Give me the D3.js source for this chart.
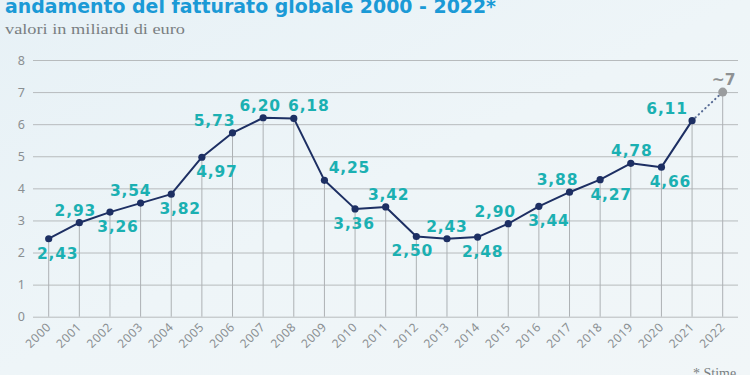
<!DOCTYPE html>
<html>
<head>
<meta charset="utf-8">
<script src="https://cdn.jsdelivr.net/npm/d3@7"></script>
<style>
  body { margin: 0; padding: 0; }
  svg { display: block; }
</style>
</head>
<body>
<svg id="chart" width="750" height="375"></svg>
<script>
// dati (miliardi di euro)
var years = [2000, 2001, 2002, 2003, 2004, 2005, 2006, 2007, 2008, 2009, 2010,
             2011, 2012, 2013, 2014, 2015, 2016, 2017, 2018, 2019, 2020, 2021];
var values = [2.43, 2.93, 3.26, 3.54, 3.82, 4.97, 5.73, 6.20, 6.18, 4.25, 3.36,
              3.42, 2.50, 2.43, 2.48, 2.90, 3.44, 3.88, 4.27, 4.78, 4.66, 6.11];
var estimateYear = 2022;
var estimateValue = 7;
var estimateLabel = "~7";
var yTicks = [0, 1, 2, 3, 4, 5, 6, 7, 8];
var xTickLabels = ["2000", "2001", "2002", "2003", "2004", "2005", "2006", "2007",
                   "2008", "2009", "2010", "2011", "2012", "2013", "2014", "2015",
                   "2016", "2017", "2018", "2019", "2020", "2021", "2022"];
// sopra (a) / sotto (b) il punto
var labelSide = ["b","a","b","a","b","b","a","a","a","a","b",
                 "a","b","a","b","a","b","a","b","a","b","a"];
var labelNudge = [9, -4, 8, -10, 9, 15, -18, -3, 15, 25, -1,
                  3, -4, 0, 5, -13, 10, -12, 11, 1, 9, -25];

var svg = d3.select("#chart");

// sfondo
var defs = svg.append("defs");
var grad = defs.append("linearGradient").attr("id", "bg")
	.attr("x1", "0").attr("y1", "0").attr("x2", "1").attr("y2", "1");
grad.append("stop").attr("offset", "0").attr("stop-color", "#e7f1f6");
grad.append("stop").attr("offset", "0.5").attr("stop-color", "#eef5f8");
grad.append("stop").attr("offset", "1").attr("stop-color", "#f1f6f8");
svg.append("rect").attr("width", 750).attr("height", 375).attr("fill", "url(#bg)");

var x = d3.scaleLinear().domain([2000, 2022]).range([48.7, 722.7]);
var y = d3.scaleLinear().domain([0, 8]).range([316.7, 60]);

// titoli
svg.append("text")
	.attr("x", 5).attr("y", 13)
	.attr("textLength", 491).attr("lengthAdjust", "spacingAndGlyphs")
	.style("font-family", "'DejaVu Sans', sans-serif")
	.style("font-weight", "bold")
	.style("font-size", "19px")
	.attr("fill", "#1b9ad6")
	.text("andamento del fatturato globale 2000 - 2022*");

svg.append("text")
	.attr("x", 5).attr("y", 34)
	.attr("textLength", 180).attr("lengthAdjust", "spacingAndGlyphs")
	.style("font-family", "'Liberation Serif', serif")
	.style("font-size", "15px")
	.attr("fill", "#7a7f82")
	.text("valori in miliardi di euro");

// griglia orizzontale + etichette asse y
var yAxis = svg.append("g")
	.attr("transform", "translate(33,0)")
	.call(d3.axisLeft(y).tickValues(yTicks).tickSize(-705).tickPadding(8).tickFormat(d3.format("d")));
yAxis.select(".domain").remove();
yAxis.selectAll(".tick line").attr("stroke", "#b7bbbd").attr("stroke-width", 1);
yAxis.selectAll(".tick text")
	.attr("fill", "#8a8f92")
	.style("font-family", "'Noto Sans', sans-serif")
	.style("font-size", "12.5px");

// linee verticali dai punti
var allYears = years.concat([estimateYear]);
var allValues = values.concat([estimateValue]);
svg.append("g").selectAll("line")
	.data(allYears)
	.join("line")
	.attr("x1", function(d) { return x(d); })
	.attr("x2", function(d) { return x(d); })
	.attr("y1", function(d, i) { return y(allValues[i]); })
	.attr("y2", y(0))
	.attr("stroke", "#adb1b4")
	.attr("stroke-width", 1);

// etichette asse x
svg.append("g").selectAll("text")
	.data(xTickLabels)
	.join("text")
	.attr("transform", function(d) { return "translate(" + (x(+d) + 3) + "," + (y(0) + 11) + ") rotate(-45)"; })
	.attr("text-anchor", "end")
	.attr("fill", "#8a8f92")
	.style("font-family", "'Noto Sans', sans-serif")
	.style("font-size", "12px")
	.style("letter-spacing", "0.6px")
	.text(function(d) { return d; });

// linea stimata
svg.append("line")
	.attr("x1", x(years[years.length - 1]))
	.attr("y1", y(values[values.length - 1]))
	.attr("x2", x(estimateYear))
	.attr("y2", y(estimateValue))
	.attr("stroke", "#5a6d96")
	.attr("stroke-width", 2)
	.attr("stroke-linecap", "round")
	.attr("stroke-dasharray", "0.5,4");

// linea
var line = d3.line()
	.x(function(d, i) { return x(years[i]); })
	.y(function(d) { return y(d); });

svg.append("path")
	.datum(values)
	.attr("fill", "none")
	.attr("stroke", "#1d2f63")
	.attr("stroke-width", 2)
	.attr("stroke-linejoin", "round")
	.attr("d", line);

svg.append("g").selectAll("circle")
	.data(values)
	.join("circle")
	.attr("cx", function(d, i) { return x(years[i]); })
	.attr("cy", function(d) { return y(d); })
	.attr("r", 3.6)
	.attr("fill", "#1d2f63");

svg.append("circle")
	.attr("cx", x(estimateYear))
	.attr("cy", y(estimateValue))
	.attr("r", 4.5)
	.attr("fill", "#9a9c9e");

// etichette valori
var fmt = function(v) { return v.toFixed(2).replace(".", ","); };
svg.append("g").selectAll("text")
	.data(values)
	.join("text")
	.attr("x", function(d, i) { return x(years[i]) + labelNudge[i]; })
	.attr("y", function(d, i) { return y(d) + (labelSide[i] == "a" ? -7 : 20); })
	.attr("text-anchor", "middle")
	.attr("fill", "#1bb0b2")
	.style("font-family", "'DejaVu Sans', sans-serif")
	.style("font-weight", "bold")
	.style("font-size", "15.5px")
	.style("letter-spacing", "0.8px")
	.text(fmt);

svg.append("text")
	.attr("x", x(estimateYear) + 1)
	.attr("y", y(estimateValue) - 7)
	.attr("text-anchor", "middle")
	.attr("fill", "#8e9193")
	.style("font-family", "'DejaVu Sans', sans-serif")
	.style("font-weight", "bold")
	.style("font-size", "15.5px")
	.text(estimateLabel);

// nota
svg.append("text")
	.attr("x", 693).attr("y", 378)
	.attr("fill", "#7a7f82")
	.style("font-family", "'Liberation Serif', serif")
	.style("font-size", "14px")
	.text("* Stime");
</script>
</body>
</html>
